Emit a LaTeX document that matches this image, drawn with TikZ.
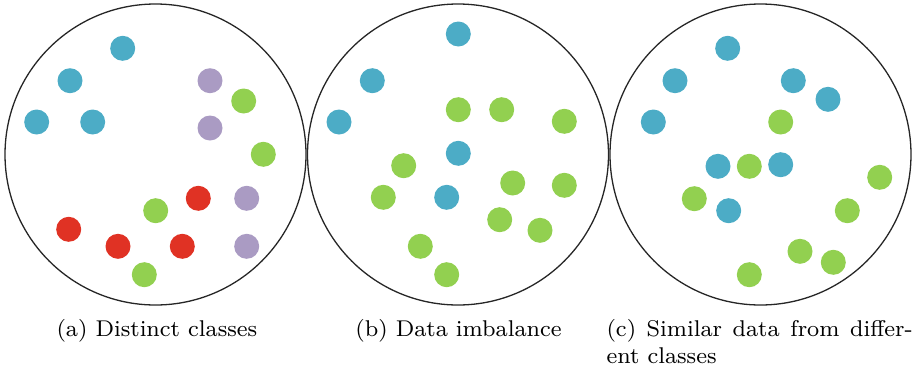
\documentclass[tikz,border=0pt]{standalone}
\usepackage{tikz}
\definecolor{dotblue}{RGB}{76,172,198}
\definecolor{dotgreen}{RGB}{146,208,80}
\definecolor{dotred}{RGB}{224,50,36}
\definecolor{dotpurple}{RGB}{170,155,195}
\tikzset{
  x=1pt, y=-1pt,
  panel/.style={circle, draw=black!85, line width=1.3pt, minimum size=301pt, inner sep=0pt},
  pt/.style={circle, fill=#1, minimum size=25pt, inner sep=0pt},
  captxt/.style={font=\footnotesize, inner sep=0pt, scale=2.85}
}
\begin{document}
\begin{tikzpicture}
\useasboundingbox (0,0) rectangle (914,373);
% three sample spaces
\node[panel] (A) at (155.5,154.5) {};
\node[panel] (B) at (458,154.5) {};
\node[panel] (C) at (760.5,154.5) {};

% (a) distinct classes
\node[pt=dotblue] (a1) at (122.7,48.3) {};
\node[pt=dotblue] (a2) at (70,80.7) {};
\node[pt=dotblue] (a3) at (36.7,122) {};
\node[pt=dotblue] (a4) at (92.7,122) {};
\node[pt=dotpurple] (a5) at (210,80.7) {};
\node[pt=dotpurple] (a6) at (210,128) {};
\node[pt=dotpurple] (a7) at (246.7,198.3) {};
\node[pt=dotpurple] (a8) at (246.7,246.3) {};
\node[pt=dotgreen] (a9) at (243.7,101) {};
\node[pt=dotgreen] (a10) at (263.3,154.3) {};
\node[pt=dotgreen] (a11) at (155.7,210.7) {};
\node[pt=dotgreen] (a12) at (144.3,274.7) {};
\node[pt=dotred] (a13) at (198.3,198.3) {};
\node[pt=dotred] (a14) at (68.7,229.3) {};
\node[pt=dotred] (a15) at (118,246.3) {};
\node[pt=dotred] (a16) at (182.3,246.3) {};

% (b) data imbalance
\node[pt=dotblue] (b1) at (458.3,34) {};
\node[pt=dotblue] (b2) at (372.3,80.7) {};
\node[pt=dotblue] (b3) at (339,122) {};
\node[pt=dotblue] (b4) at (458.3,153.3) {};
\node[pt=dotblue] (b5) at (446.7,197.3) {};
\node[pt=dotgreen] (b6) at (458.3,109.7) {};
\node[pt=dotgreen] (b7) at (501.7,109.7) {};
\node[pt=dotgreen] (b8) at (564.3,121.3) {};
\node[pt=dotgreen] (b9) at (403.7,165.7) {};
\node[pt=dotgreen] (b10) at (383.3,197.3) {};
\node[pt=dotgreen] (b11) at (512.7,183) {};
\node[pt=dotgreen] (b12) at (564.3,185.3) {};
\node[pt=dotgreen] (b13) at (499.7,219.7) {};
\node[pt=dotgreen] (b14) at (540,230.3) {};
\node[pt=dotgreen] (b15) at (420.3,246.3) {};
\node[pt=dotgreen] (b16) at (446.7,274.7) {};

% (c) similar data from different classes
\node[pt=dotblue] (c1) at (727.7,48.3) {};
\node[pt=dotblue] (c2) at (675,80.7) {};
\node[pt=dotblue] (c3) at (653.3,122) {};
\node[pt=dotblue] (c4) at (793.3,80.7) {};
\node[pt=dotblue] (c5) at (828,99.3) {};
\node[pt=dotblue] (c6) at (718,166.3) {};
\node[pt=dotblue] (c7) at (780.7,164.7) {};
\node[pt=dotblue] (c8) at (728.7,210.7) {};
\node[pt=dotgreen] (c9) at (780.7,122) {};
\node[pt=dotgreen] (c10) at (749.3,166.3) {};
\node[pt=dotgreen] (c11) at (694.3,198.7) {};
\node[pt=dotgreen] (c12) at (879.7,177.3) {};
\node[pt=dotgreen] (c13) at (847.3,210.7) {};
\node[pt=dotgreen] (c14) at (800,251.3) {};
\node[pt=dotgreen] (c15) at (833.3,262.3) {};
\node[pt=dotgreen] (c16) at (749.3,274.7) {};

% captions
\node[captxt, anchor=base west] (capA) at (56,336.7) {(a) Distinct classes};
\node[captxt, anchor=base] (capB) at (458.5,336.7) {(b) Data imbalance};
\node[captxt, anchor=base west, text width=107.4pt, align=justify] (capC) at (606,336.7)
  {(c) Similar data from differ-\linebreak ent classes};
\end{tikzpicture}
\end{document}
